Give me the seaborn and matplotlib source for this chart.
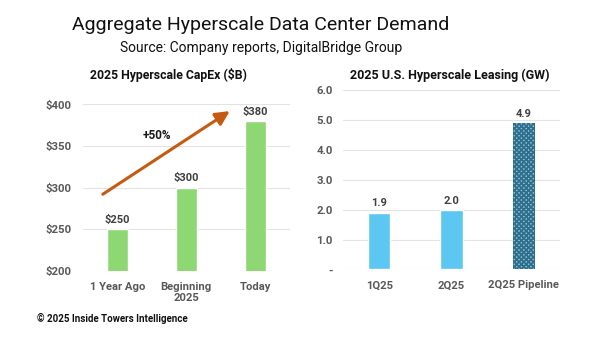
import matplotlib
matplotlib.use("Agg")
import matplotlib.pyplot as plt
import seaborn as sns
import pandas as pd

capex_categories = ["1 Year Ago", "Beginning\n2025", "Today"]
capex_values = [250, 300, 380]
capex_labels = ["$250", "$300", "$380"]
capex_ticks = [200, 250, 300, 350, 400]

lease_categories = ["1Q25", "2Q25", "2Q25 Pipeline"]
lease_values = [1.9, 2.0, 4.9]
lease_ticks = [0, 1, 2, 3, 4, 5, 6]
lease_tick_labels = ["-", "1.0", "2.0", "3.0", "4.0", "5.0", "6.0"]

sns.set_theme(style="white")
plt.rcParams["font.family"] = ["Roboto", "DejaVu Sans"]
plt.rcParams["hatch.linewidth"] = 1.3

GREEN = "#8ED873"
BLUE = "#5CC8F2"
GREY = "#595959"
GRID = "#E3E3E3"

fig = plt.figure(figsize=(6, 3.38), dpi=100)

# Left chart
ax1 = fig.add_axes([0.138, 0.199, 0.345, 0.492])
df1 = pd.DataFrame({"cat": capex_categories, "val": capex_values})
sns.barplot(data=df1, x="cat", y="val", hue="cat", palette=[GREEN] * 3,
            width=0.31, ax=ax1, legend=False, saturation=1)
ax1.set_ylim(200, 400)
ax1.set_yticks(capex_ticks)
ax1.set_yticklabels([f"${t}" for t in capex_ticks])
for i, (v, lab) in enumerate(zip(capex_values, capex_labels)):
    ax1.annotate(lab, (i, v), xytext=(0, 3), textcoords="offset points",
                 ha="center", va="bottom", fontsize=8, fontweight="bold", color="#404040")
ax1.annotate("", xy=(1.63, 392), xytext=(-0.21, 292),
             arrowprops=dict(arrowstyle="-|>,head_length=0.7,head_width=0.35",
                             color="#C55A11", lw=2.2, shrinkA=0, shrinkB=0),
             annotation_clip=False)
ax1.text(0.57, 363, "+50%", ha="center", va="center", fontsize=8.5,
         fontweight="bold", color="#1a1a1a")

# Right chart
ax2 = fig.add_axes([0.572, 0.203, 0.361, 0.530])
df2 = pd.DataFrame({"cat": lease_categories, "val": lease_values})
sns.barplot(data=df2, x="cat", y="val", hue="cat", palette=[BLUE, BLUE, "#8CC3DA"],
            width=0.31, ax=ax2, legend=False, saturation=1)
pipe = ax2.patches[2]
pipe.set_hatch("xxxxxxx")
pipe.set_edgecolor("#2F6F8C")
pipe.set_linewidth(0)
ax2.set_ylim(0, 6)
ax2.set_yticks(lease_ticks)
ax2.set_yticklabels(lease_tick_labels)
for i, v in enumerate(lease_values):
    ax2.annotate(f"{v:.1f}", (i, v), xytext=(0, 3), textcoords="offset points",
                 ha="center", va="bottom", fontsize=8, fontweight="bold", color="#404040")

for ax, pad in ((ax1, 8), (ax2, 7.6)):
    ax.set_xlabel("")
    ax.set_ylabel("")
    sns.despine(ax=ax, left=True, bottom=True)
    ax.yaxis.grid(True, color=GRID, lw=0.8)
    ax.set_axisbelow(True)
    ax.tick_params(axis="y", length=0, pad=pad, labelsize=8.2, labelcolor=GREY)
    ax.tick_params(axis="x", length=0, pad=8, labelsize=8.1, labelcolor=GREY)
    for t in ax.get_xticklabels() + ax.get_yticklabels():
        t.set_fontweight("bold")
    ax.set_xlim(-0.5, 2.5)

fig.text(0.28, 0.777, "2025 Hyperscale CapEx ($B)", ha="center", va="center",
         fontsize=8.8, fontweight="bold", color="#111111")
fig.text(0.75, 0.777, "2025 U.S. Hyperscale Leasing (GW)", ha="center", va="center",
         fontsize=9, fontweight="bold", color="#111111")

fig.text(0.435, 0.927, "Aggregate Hyperscale Data Center Demand", ha="center",
         va="center", fontsize=14, color="#111111")
fig.text(0.435, 0.859, "Source: Company reports, DigitalBridge Group", ha="center",
         va="center", fontsize=10, color="#111111")
fig.text(0.062, 0.059, "© 2025 Inside Towers Intelligence", ha="left", va="center",
         fontsize=7, fontweight="bold", color="#111111")

fig.savefig("out.png", dpi=100, facecolor="white")
